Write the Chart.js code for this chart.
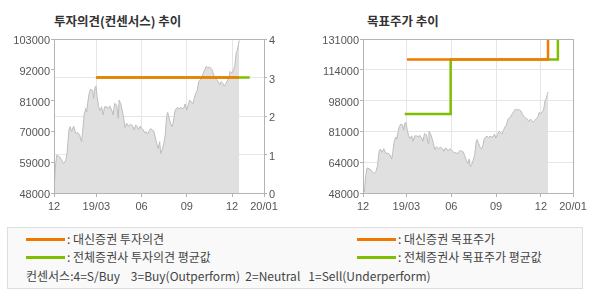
<!DOCTYPE html>
<html><head><meta charset="utf-8">
<script src="https://cdn.jsdelivr.net/npm/chart.js@4"></script>
<style>
body{margin:0;background:#fff;width:590px;height:300px;position:relative;overflow:hidden;font-family:"Noto Sans CJK KR",sans-serif;}
.title{position:absolute;top:12px;font-weight:bold;font-size:12.5px;color:#333;line-height:17px;white-space:pre;}
#c1{position:absolute;left:0;top:0;}
#c2{position:absolute;left:295px;top:0;}
.legend{position:absolute;left:7px;top:227px;width:576px;height:62px;border:1px solid #dedede;background:#f9f9f9;box-sizing:border-box;}
.item{position:absolute;font-size:12px;color:#444;line-height:14px;white-space:pre;}
.sw{position:absolute;height:3px;width:39px;}
</style></head>
<body>
<div class="title" style="left:54px">투자의견(컨센서스) 추이</div>
<div class="title" style="left:367px">목표주가 추이</div>
<canvas id="c1" width="295" height="220"></canvas>
<canvas id="c2" width="295" height="220"></canvas>
<div class="legend"></div>
<div class="sw" style="left:26px;top:238px;background:#f07800"></div>
<div class="item" style="left:67px;top:232px">: 대신증권 투자의견</div>
<div class="sw" style="left:26px;top:256px;background:#7fbe00"></div>
<div class="item" style="left:67px;top:250px">: 전체증권사 투자의견 평균값</div>
<div class="sw" style="left:357px;top:238px;background:#f07800"></div>
<div class="item" style="left:398px;top:232px">: 대신증권 목표주가</div>
<div class="sw" style="left:357px;top:256px;background:#7fbe00"></div>
<div class="item" style="left:398px;top:250px">: 전체증권사 목표주가 평균값</div>
<div class="item" style="left:26px;top:269px">컨센서스:4=S/Buy    3=Buy(Outperform)  2=Neutral   1=Sell(Underperform)</div>
<script>
// ---- data ----
const xTickLabels = ['12','19/03','06','09','12','20/01'];
const xTickMonths = [3, 6, 9, 12]; // months since 2018-12 (inner ticks)
const leftPriceTicks = [48000,59000,70000,81000,92000,103000];
const opinionTicks = [0,1,2,3,4];
const rightPriceTickLabels = ['48000','64000','81000','98000','114000','131000'];

const priceMonths = [0.19,0.28,0.37,0.56,0.70,0.83,0.96,1.06,1.18,1.26,1.36,1.49,1.63,1.76,1.89,2.02,2.09,2.19,2.29,2.36,2.42,2.52,2.62,2.75,2.82,2.89,2.97,3.05,3.15,3.25,3.35,3.45,3.55,3.68,3.82,3.88,4.02,4.11,4.21,4.35,4.45,4.51,4.61,4.71,4.81,4.90,5.01,5.14,5.28,5.41,5.51,5.61,5.71,5.81,5.91,6.01,6.11,6.21,6.30,6.40,6.50,6.60,6.70,6.80,6.90,7.00,7.10,7.20,7.27,7.37,7.47,7.57,7.66,7.73,7.83,7.93,8.03,8.13,8.20,8.30,8.39,8.49,8.59,8.69,8.79,8.89,8.99,9.09,9.19,9.29,9.39,9.49,9.59,9.69,9.79,9.89,9.99,10.09,10.19,10.29,10.39,10.49,10.59,10.68,10.78,10.88,10.98,11.08,11.18,11.28,11.38,11.48,11.58,11.68,11.78,11.88,11.98,12.08,12.18,12.28,12.35,12.42,12.48];
const priceValues = [48400,57300,61500,60900,59700,58500,59500,62300,70500,71700,69900,71900,69300,69500,68700,66300,69900,75900,78200,77000,80000,83600,85100,84600,81800,85400,86200,82400,78800,77400,78800,75900,78800,78800,78200,79100,77600,75900,80000,79400,74700,81200,80000,77600,74700,71400,72900,71900,72600,71900,70500,72300,71700,70700,71900,71100,70500,69500,69900,69000,70200,71000,70500,70200,68100,65700,63900,66300,62100,63500,65700,68700,75300,76800,74700,72600,71700,74100,77000,78200,78600,77900,78600,78200,78200,79800,77600,79400,81200,80600,79800,81700,83600,84600,87800,88400,89400,90800,92000,93200,92700,93000,92600,92000,90200,89000,88400,87800,86600,87800,87200,86200,87000,88000,88900,91400,90800,91700,93200,98200,98900,101000,102500];

const opinionMonths = [3.0, 12.46];      const opinionValues = [3, 3];
const opinionAvgMonths = [2.97, 13.17];  const opinionAvgValues = [3, 3];
const targetMonths = [3.04, 12.47];      const targetValues = [120000, 140000];
const targetAvgMonths = [2.89, 5.96, 13.13]; const targetAvgValues = [90600, 120000, 140000];

const ORANGE = '#f57a00', GREEN = '#7fbe00';
const AXIS = '#b4b4b4', GRID = '#e6e6e6', TXT = '#555';
const tickFont = {family:'"Liberation Sans", Arial, sans-serif', size:11};

const pts = (xs, ys) => xs.map((x,i)=>({x, y: ys[i]}));

const framePlugin = {
  id:'frame',
  afterDatasetsDraw(chart){
    const a = chart.chartArea, c = chart.ctx;
    c.save(); c.strokeStyle = AXIS; c.lineWidth = 1;
    c.strokeRect(Math.round(a.left)+0.5, Math.round(a.top)+0.5, Math.round(a.right-a.left), Math.round(a.bottom-a.top));
    c.restore();
  }
};

function xAxis(min, max){
  return {
    type:'linear', min, max, position:'bottom',
    afterBuildTicks: s => { s.ticks = [min, ...xTickMonths, max].map(v=>({value:v})); },
    afterFit: s => { s.height = 27; },
    ticks:{ callback:(v,i)=>xTickLabels[i], font:tickFont, color:TXT, padding:3, maxRotation:0, autoSkip:false },
    grid:{ color: c => (c.index===0 || c.index===5) ? 'rgba(0,0,0,0)' : GRID, tickColor:AXIS, tickLength:4, lineWidth:1 },
    border:{ color:AXIS }
  };
}

function priceDataset(yID){
  return { type:'line', data: pts(priceMonths, priceValues), yAxisID:yID, xAxisID:'x',
    borderColor:'#bdbdbd', borderWidth:1, backgroundColor:'#e0e0e0', fill:'start',
    pointRadius:0, tension:0, order:3 };
}
function stepDataset(xs, ys, color, yID, order){
  return { type:'line', data: pts(xs, ys), yAxisID:yID, xAxisID:'x',
    borderColor:color, borderWidth:2.5, fill:false, pointRadius:0, stepped:'before',
    order, borderCapStyle:'butt', clip:0 };
}

new Chart(document.getElementById('c1'), {
  type:'line',
  data:{ datasets:[
    stepDataset(opinionMonths, opinionValues, ORANGE, 'yC', 0),
    stepDataset(opinionAvgMonths, opinionAvgValues, GREEN, 'yC', 1),
    priceDataset('yP')
  ]},
  options:{
    responsive:false, animation:false, events:[],
    layout:{ padding:{ top:39, left:0, right:0, bottom:0 } },
    plugins:{ legend:{display:false}, tooltip:{enabled:false} },
    scales:{
      x: xAxis(0.19, 14.12),
      yP:{ type:'linear', position:'left', min:48000, max:103000,
        afterBuildTicks: s => { s.ticks = leftPriceTicks.map(v=>({value:v})); },
        afterFit: s => { s.width = 54; },
        ticks:{ font:tickFont, color:TXT, padding:1, labelOffset:2, callback:v=>String(v) },
        grid:{ drawOnChartArea:false, tickColor:AXIS, tickLength:3 },
        border:{ color:AXIS } },
      yC:{ type:'linear', position:'right', min:0, max:4,
        afterBuildTicks: s => { s.ticks = opinionTicks.map(v=>({value:v})); },
        afterFit: s => { s.width = 31; },
        ticks:{ font:tickFont, color:TXT, padding:2, labelOffset:2, callback:v=>String(v) },
        grid:{ color: c => (c.index===0 || c.index===4) ? 'rgba(0,0,0,0)' : GRID, tickColor:AXIS, tickLength:3 },
        border:{ color:AXIS } }
    }
  },
  plugins:[framePlugin]
});

new Chart(document.getElementById('c2'), {
  type:'line',
  data:{ datasets:[
    stepDataset(targetMonths, targetValues, ORANGE, 'yP', 0),
    stepDataset(targetAvgMonths, targetAvgValues, GREEN, 'yP', 1),
    priceDataset('yP')
  ]},
  options:{
    responsive:false, animation:false, events:[],
    layout:{ padding:{ top:39, left:0, right:17, bottom:0 } },
    plugins:{ legend:{display:false}, tooltip:{enabled:false} },
    scales:{
      x: xAxis(0.10, 14.14),
      yP:{ type:'linear', position:'left', min:48000, max:131000,
        afterBuildTicks: s => { s.ticks = rightPriceTickLabels.map((t,i)=>({value:48000 + i*(131000-48000)/5})); },
        afterFit: s => { s.width = 68; },
        ticks:{ font:tickFont, color:TXT, padding:1, labelOffset:2, callback:(v,i)=>rightPriceTickLabels[i] },
        grid:{ color: c => (c.index===0 || c.index===5) ? 'rgba(0,0,0,0)' : GRID, tickColor:AXIS, tickLength:3 },
        border:{ color:AXIS } }
    }
  },
  plugins:[framePlugin]
});
</script>
</body></html>
